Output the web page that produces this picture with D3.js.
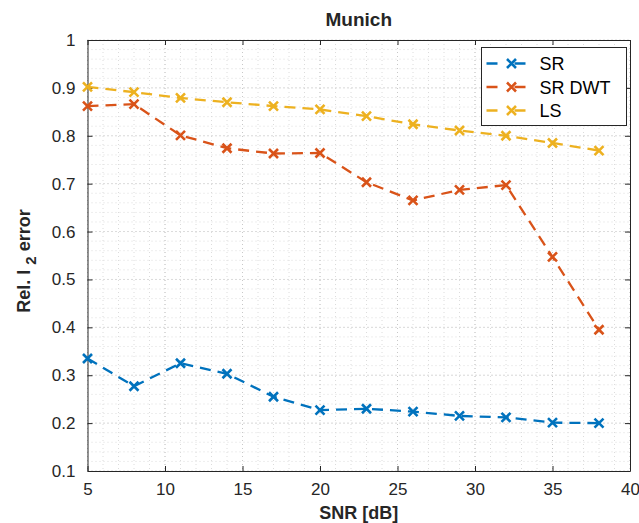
<!DOCTYPE html>
<html>
<head>
<meta charset="utf-8">
<script src="https://cdn.jsdelivr.net/npm/d3@7"></script>
<style>
  body { margin: 0; background: #fff; }
  svg text { font-family: "Liberation Sans", Arial, sans-serif; }
</style>
</head>
<body>
<div class="chart"></div>
<script>
var snr = [5, 8, 11, 14, 17, 20, 23, 26, 29, 32, 35, 38];
var srVals = [0.335, 0.277, 0.325, 0.303, 0.255, 0.227, 0.230, 0.224, 0.215, 0.212, 0.201, 0.200];
var srDwtVals = [0.862, 0.866, 0.801, 0.774, 0.763, 0.764, 0.703, 0.665, 0.687, 0.697, 0.547, 0.395];
var lsVals = [0.902, 0.891, 0.879, 0.870, 0.862, 0.855, 0.841, 0.824, 0.811, 0.800, 0.785, 0.769];
var seriesNames = ["SR", "SR DWT", "LS"];
var seriesColors = ["#0072BD", "#D95319", "#EDB120"];
var xTicks = [5, 10, 15, 20, 25, 30, 35, 40];
var yTicks = [0.1, 0.2, 0.3, 0.4, 0.5, 0.6, 0.7, 0.8, 0.9, 1];

var svgWidth = 639;
var svgHeight = 523;
var margin = {top: 40, right: 9, bottom: 52, left: 87.5};
var width = svgWidth - margin.left - margin.right;
var height = svgHeight - margin.top - margin.bottom;

var svg = d3.select(".chart").append("svg")
  .attr("width", svgWidth)
  .attr("height", svgHeight);

var g = svg.append("g").attr("transform", `translate(${margin.left}, ${margin.top})`);

var xScale = d3.scaleLinear().domain([5, 40]).range([0, width]);
var yScale = d3.scaleLinear().domain([0.1, 1]).range([height, 0]);

var axisColor = "#262626";
var gridColor = "#dcdcdc";

// minor + major grid (all dotted)
var xMinor = d3.range(5, 40.001, 1);
var yMinor = d3.range(0.1, 1.0001, 0.02);
g.append("g").selectAll("line").data(xMinor).enter().append("line")
  .attr("x1", d => xScale(d)).attr("x2", d => xScale(d))
  .attr("y1", 0).attr("y2", height)
  .attr("stroke", gridColor).attr("stroke-dasharray", "1,3");
g.append("g").selectAll("line").data(yMinor).enter().append("line")
  .attr("y1", d => yScale(d)).attr("y2", d => yScale(d))
  .attr("x1", 0).attr("x2", width)
  .attr("stroke", gridColor).attr("stroke-dasharray", "1,3");
g.append("g").selectAll("line").data(xTicks).enter().append("line")
  .attr("x1", d => xScale(d)).attr("x2", d => xScale(d))
  .attr("y1", 0).attr("y2", height)
  .attr("stroke", "#c8c8c8").attr("stroke-dasharray", "1,3");
g.append("g").selectAll("line").data(yTicks).enter().append("line")
  .attr("y1", d => yScale(d)).attr("y2", d => yScale(d))
  .attr("x1", 0).attr("x2", width)
  .attr("stroke", "#c8c8c8").attr("stroke-dasharray", "1,3");

// axes (ticks inward on all four sides)
function styleAxis(sel) {
  sel.select(".domain").attr("stroke", axisColor);
  sel.selectAll(".tick line").attr("stroke", axisColor);
  sel.selectAll(".tick text").attr("fill", axisColor)
    .style("font-size", "17px").style("font-family", "Liberation Sans, Arial, sans-serif");
}

var bottomAxis = d3.axisBottom(xScale).tickValues(xTicks).tickSize(-5).tickSizeOuter(0).tickPadding(12).tickFormat(d3.format("d"));
var leftAxis = d3.axisLeft(yScale).tickValues(yTicks).tickSize(-5).tickSizeOuter(0).tickPadding(12).tickFormat(d => d === 1 ? "1" : d3.format(".1f")(d));
var topAxis = d3.axisTop(xScale).tickValues(xTicks).tickSize(-5).tickSizeOuter(0).tickFormat("");
var rightAxis = d3.axisRight(yScale).tickValues(yTicks).tickSize(-5).tickSizeOuter(0).tickFormat("");

g.append("g").attr("transform", `translate(0, ${height})`).call(bottomAxis).call(styleAxis);
g.append("g").call(leftAxis).call(styleAxis);
g.append("g").call(topAxis).call(styleAxis);
g.append("g").attr("transform", `translate(${width}, 0)`).call(rightAxis).call(styleAxis);

// series
var allVals = [srVals, srDwtVals, lsVals];
var line = d3.line().x((d, i) => xScale(snr[i])).y(d => yScale(d));

function drawX(sel, cx, cy, color) {
  var s = 4.5;
  sel.append("path")
    .attr("d", `M${cx - s},${cy - s}L${cx + s},${cy + s}M${cx - s},${cy + s}L${cx + s},${cy - s}`)
    .attr("stroke", color).attr("stroke-width", 2.6).attr("fill", "none");
}

allVals.forEach(function(vals, k) {
  var sg = g.append("g");
  sg.append("path").datum(vals)
    .attr("d", line)
    .attr("fill", "none")
    .attr("stroke", seriesColors[k])
    .attr("stroke-width", 2.3)
    .attr("stroke-dasharray", "11,7");
  vals.forEach(function(v, i) {
    drawX(sg, xScale(snr[i]), yScale(v), seriesColors[k]);
  });
});

// legend
var lg = svg.append("g").attr("transform", "translate(481.5, 47.5)");
lg.append("rect").attr("width", 145).attr("height", 78)
  .attr("fill", "#fff").attr("stroke", axisColor).attr("stroke-width", 1);
seriesNames.forEach(function(name, k) {
  var yy = 16 + k * 23.5;
  lg.append("line").attr("x1", 5).attr("x2", 56).attr("y1", yy).attr("y2", yy)
    .attr("stroke", seriesColors[k]).attr("stroke-width", 2.3).attr("stroke-dasharray", "11,17");
  drawX(lg, 30, yy, seriesColors[k]);
  lg.append("text").attr("x", 58).attr("y", yy + 6.5)
    .style("font-size", "18px").attr("fill", "#000").text(name);
});

// title and labels
svg.append("text")
  .attr("x", margin.left + width / 2).attr("y", 26)
  .attr("text-anchor", "middle").style("font-size", "19px").style("font-weight", "bold")
  .attr("fill", "#262626").text("Munich");

svg.append("text")
  .attr("x", margin.left + width / 2).attr("y", 519)
  .attr("text-anchor", "middle").style("font-size", "18px").style("font-weight", "bold")
  .attr("fill", "#262626").text("SNR [dB]");

var yl = svg.append("text")
  .attr("transform", "translate(30, 261) rotate(-90)")
  .attr("text-anchor", "middle").style("font-size", "18px").style("font-weight", "bold")
  .attr("fill", "#262626");
yl.append("tspan").text("Rel. l ");
yl.append("tspan").attr("dy", 6).style("font-size", "15px").text("2");
yl.append("tspan").attr("dy", -6).text(" error");
</script>
</body>
</html>
